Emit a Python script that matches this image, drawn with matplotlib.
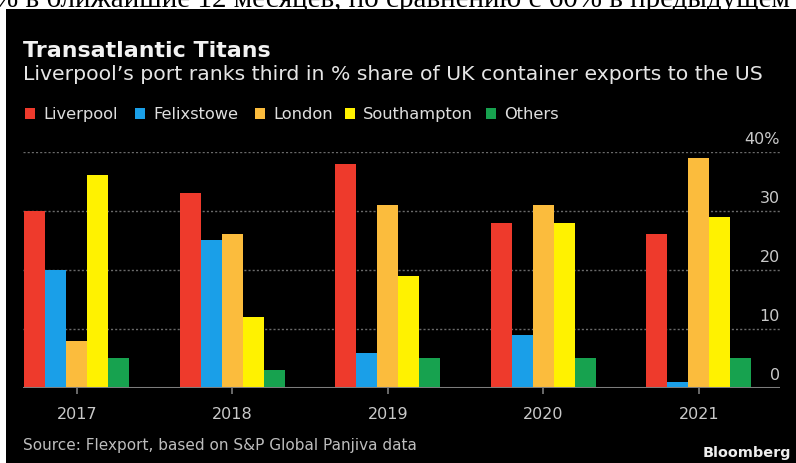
import matplotlib
matplotlib.use("Agg")
import matplotlib.pyplot as plt
import matplotlib.transforms as mtransforms
from matplotlib.patches import Rectangle
import numpy as np

# Share of UK container exports to the US (%)
years = ["2017", "2018", "2019", "2020", "2021"]
ports = ["Liverpool", "Felixstowe", "London", "Southampton", "Others"]
liverpool = [30, 33, 38, 28, 26]
felixstowe = [20, 25, 6, 9, 1]
london = [8, 26, 31, 31, 39]
southampton = [36, 12, 19, 28, 29]
others = [5, 3, 5, 5, 5]
y_ticks = [0, 10, 20, 30, 40]
y_tick_labels = ["0", "10", "20", "30", "40%"]

series = [liverpool, felixstowe, london, southampton, others]
colors = ["#ee3a2c", "#1a9fe8", "#fbbc3d", "#fff200", "#17a24f"]

W, H = 796, 464
fig = plt.figure(figsize=(W / 100, H / 100), dpi=100, facecolor="white")


def fx(px):
    return px / W


def fy(py):
    return 1 - py / H


# dark panel
fig.add_artist(Rectangle((fx(6), 0), 1 - fx(6), fy(10), transform=fig.transFigure,
                         facecolor="black", edgecolor="none", zorder=0))

# article text above the panel
fig.text(fx(-6), fy(7), "% в ближайшие 12 месяцев, по сравнению с 60% в предыдущем",
         family="Liberation Serif", fontsize=21, color="black", ha="left",
         va="baseline", zorder=1)

ax = fig.add_axes([fx(23), fy(389), fx(780) - fx(23), fy(152.7) - fy(389)])
ax.set_facecolor("none")

x = np.arange(len(years))
bw = 0.135
for i, (vals, col, name) in enumerate(zip(series, colors, ports)):
    ax.bar(x + (i - 2) * bw, vals, width=bw, color=col, label=name, zorder=2)

ax.set_xlim(-0.347, 4.521)
ax.set_ylim(0, 40)

for v in y_ticks[1:]:
    ax.axhline(v, color="#6a6a6a", lw=1.0, ls=(0, (1.5, 1.5)), zorder=1)
ax.axhline(0, color="#7c7c7c", lw=2.2, zorder=3)

for s in ax.spines.values():
    s.set_visible(False)

ax.set_yticks([])
ax.set_xticks(x)
ax.set_xticklabels(years, color="#c9c9c9", fontsize=11.5, family="DejaVu Sans")
ax.tick_params(axis="x", colors="#7c7c7c", length=4, width=1.2, pad=9,
               labelcolor="#c9c9c9")

# value labels sit just above each gridline on the right
trans = mtransforms.blended_transform_factory(ax.transAxes, ax.transData)
off = mtransforms.offset_copy(trans, fig=fig, x=0, y=4, units="points")
for v, lab in zip(y_ticks, y_tick_labels):
    ax.text(1.0, v, lab, transform=off, ha="right", va="bottom",
            color="#c9c9c9", fontsize=11.5, family="DejaVu Sans")

# titles
fig.text(fx(23), fy(57), "Transatlantic Titans", color="#f2f2f2", fontsize=15.9,
         fontweight="bold", family="DejaVu Sans", va="baseline")
fig.text(fx(23), fy(80), "Liverpool\u2019s port ranks third in % share of UK container exports to the US",
         color="#e6e6e6", fontsize=14.7, family="DejaVu Sans", va="baseline")

# legend
leg_x = [25, 135, 255, 345, 486]
for lx, col, name in zip(leg_x, colors, ports):
    fig.add_artist(Rectangle((fx(lx), fy(120)), fx(10), fy(109) - fy(120),
                             transform=fig.transFigure, facecolor=col,
                             edgecolor="none"))
    fig.text(fx(lx + 18), fy(114.5), name, color="#dedede", fontsize=11.7,
             family="DejaVu Sans", va="center")

# footer
fig.text(fx(23), fy(446), "Source: Flexport, based on S&P Global Panjiva data",
         color="#bdbdbd", fontsize=11, family="DejaVu Sans", va="center")
fig.text(fx(791), fy(453), "Bloomberg", color="#eeeeee", fontsize=10.4,
         fontweight="bold", family="DejaVu Sans", va="center", ha="right")

fig.savefig("out.png", dpi=100, facecolor="white")
